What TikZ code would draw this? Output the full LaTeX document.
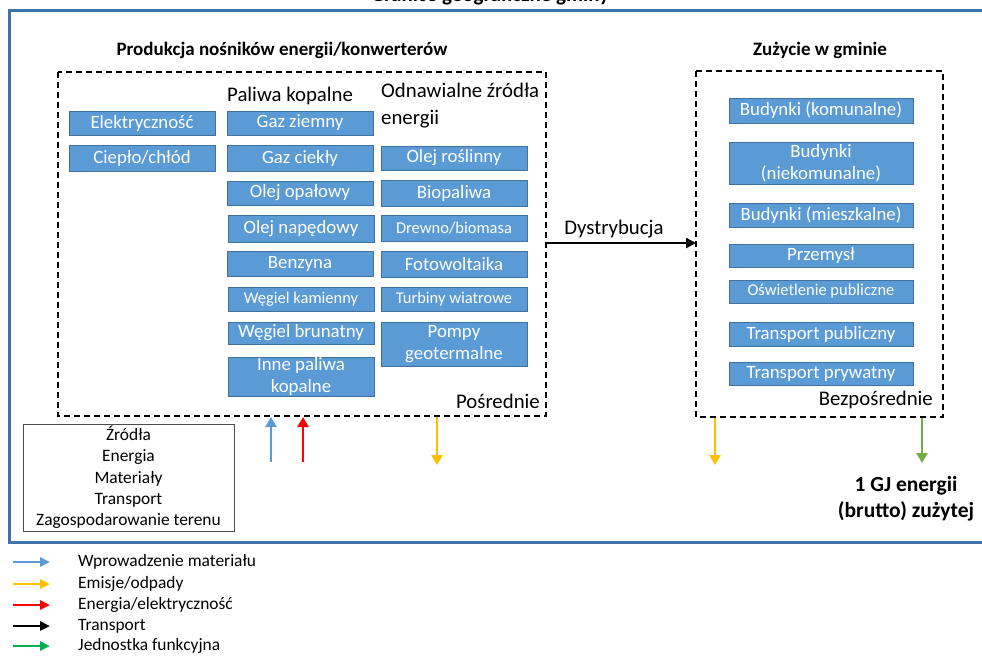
\documentclass[tikz,border=0pt]{standalone}
\usepackage{fontspec}
\setmainfont{Carlito}
\usetikzlibrary{arrows.meta}
\definecolor{bfill}{HTML}{5B9BD5}
\definecolor{bline}{HTML}{41719C}
\definecolor{frame}{HTML}{3F72AA}
\definecolor{ablue}{HTML}{5B9BD5}
\definecolor{aorange}{HTML}{FFC000}
\definecolor{ared}{HTML}{FF0000}
\definecolor{agreen}{HTML}{70AD47}
\definecolor{lgreen}{HTML}{00B050}
\tikzset{
  bbox/.style={draw=bline, line width=0.8pt, fill=bfill, text=white, inner sep=0pt, align=center,
    font=\fontsize{18.8}{22}\selectfont},
  sbox/.style={bbox, font=\fontsize{16.5}{22}\selectfont},
  dbox/.style={draw=black, line width=1.6pt, dash pattern=on 6pt off 4pt},
  head/.style={font=\bfseries\fontsize{19}{23}\selectfont, inner sep=0pt},
  sub/.style={font=\fontsize{20.8}{27}\selectfont, inner sep=0pt, align=left},
  flow/.style={line width=2.6pt, -{Triangle[width=11pt,length=10pt]}},
  lbl/.style={font=\fontsize{17.4}{21}\selectfont, inner sep=0pt, anchor=west},
}
\begin{document}
\begin{tikzpicture}[x=1pt,y=-1pt]
\useasboundingbox (0,0) rectangle (982,657);
\clip (0,0) rectangle (982,657);
% cut-off title
\node[font=\bfseries\fontsize{21}{24}\selectfont, inner sep=0pt, anchor=base] (title) at (490,1) {Granice geograficzne gminy};
% outer frame
\draw[frame, line width=3pt] (9,10) rectangle (1000,542);
% headings
\node[head] (hprod) at (282,50) {Produkcja nośników energii/konwerterów};
\node[head] (hcons) at (820,50) {Zużycie w gminie};
% dashed boxes
\draw[dbox] (58,72) rectangle (546,416);
\coordinate (lbR) at (546,243);
\draw[dbox] (696,71) rectangle (943,417);
\coordinate (rbL) at (696,243);
% sub-headings
\node[sub, anchor=west] (hfos) at (227,96) {Paliwa kopalne};
\node[sub, anchor=north west] (hren) at (381,83) {Odnawialne źródła\\energii};
% column 1
\node[bbox, minimum width=146pt, minimum height=24pt] (el) at (142,123) {Elektryczność};
\node[bbox, minimum width=146pt, minimum height=26pt] (cp) at (142,158) {Ciepło/chłód};
% column 2
\node[bbox, minimum width=146pt, minimum height=24pt] (gz) at (300,123) {Gaz ziemny};
\node[bbox, minimum width=146pt, minimum height=26pt] (gc) at (300,158) {Gaz ciekły};
\node[bbox, minimum width=146pt, minimum height=24pt] (oo) at (300,193) {Olej opałowy};
\node[bbox, minimum width=146pt, minimum height=27pt] (on) at (301,228.5) {Olej napędowy};
\node[bbox, minimum width=146pt, minimum height=25pt] (bz) at (300,263.5) {Benzyna};
\node[sbox, minimum width=146pt, minimum height=24pt] (wk) at (301,299) {Węgiel kamienny};
\node[bbox, minimum width=146pt, minimum height=22pt] (wb) at (301,333) {Węgiel brunatny};
\node[bbox, minimum width=146pt, minimum height=39pt] (ip) at (301,376.5) {Inne paliwa\\kopalne};
% column 3
\node[bbox, minimum width=146pt, minimum height=24pt] (or) at (454,158) {Olej roślinny};
\node[bbox, minimum width=146pt, minimum height=26pt] (bp) at (454,193) {Biopaliwa};
\node[sbox, minimum width=146pt, minimum height=26pt] (db) at (454,228) {Drewno/biomasa};
\node[bbox, minimum width=146pt, minimum height=26pt] (fw) at (454,264) {Fotowoltaika};
\node[sbox, minimum width=146pt, minimum height=24pt] (tw) at (454,299) {Turbiny wiatrowe};
\node[bbox, minimum width=146pt, minimum height=44pt] (pg) at (454,344) {Pompy\\geotermalne};
% right column
\node[bbox, minimum width=184pt, minimum height=25pt] (bk) at (821,110.5) {Budynki (komunalne)};
\node[bbox, minimum width=184pt, minimum height=42pt] (bn) at (821,163) {Budynki\\(niekomunalne)};
\node[bbox, minimum width=184pt, minimum height=24pt] (bm) at (821,215) {Budynki (mieszkalne)};
\node[bbox, minimum width=184pt, minimum height=23pt] (pr) at (821,255.5) {Przemysł};
\node[sbox, minimum width=184pt, minimum height=23pt] (os) at (821,291.5) {Oświetlenie publiczne};
\node[bbox, minimum width=184pt, minimum height=24pt] (tp) at (821,334) {Transport publiczny};
\node[bbox, minimum width=184pt, minimum height=23pt] (tr) at (821,373.5) {Transport prywatny};
% corner labels
\node[sub, anchor=east] (posr) at (540,401) {Pośrednie};
\node[sub, anchor=east] (bezp) at (933,400) {Bezpośrednie};
% distribution
\draw[line width=2.6pt, -{Triangle[width=10pt,length=10pt]}] (lbR) -- (rbL);
\node[sub] (dys) at (614,229) {Dystrybucja};
% sources box
\node[draw=black!70, line width=0.8pt, minimum width=211pt, minimum height=107pt, inner sep=0pt] (src) at (128.5,477.5) {};
\node[font=\fontsize{17.4}{21.3}\selectfont, align=center, inner sep=0pt] (srct) at (128.5,477.5) {Źródła\\Energia\\Materiały\\Transport\\Zagospodarowanie terenu};
% flows
\coordinate (b1) at (271,462); \coordinate (b1t) at (271,417);
\coordinate (r1) at (303,462); \coordinate (r1t) at (303,417);
\coordinate (o1) at (437,417); \coordinate (o1e) at (437,465);
\coordinate (o2) at (715,418); \coordinate (o2e) at (715,465);
\coordinate (g1) at (922,418); \coordinate (g1e) at (922,463);
\draw[flow, ablue] (b1) -- (b1t);
\draw[flow, ared] (r1) -- (r1t);
\draw[flow, aorange] (o1) -- (o1e);
\draw[flow, aorange] (o2) -- (o2e);
\draw[flow, agreen] (g1) -- (g1e);
\node[font=\bfseries\fontsize{21.5}{26}\selectfont, align=center, inner sep=0pt] (gj) at (906,499) {1 GJ energii\\(brutto) zużytej};
% legend
\foreach \y/\c [count=\i] in {562/ablue, 584/aorange, 605/ared, 626/black, 646/lgreen}{
  \coordinate (la\i) at (13,\y); \coordinate (lb\i) at (50,\y);
  \draw[\c, line width=2.6pt, -{Triangle[width=9pt,length=10pt]}] (la\i) -- (lb\i);
}
\node[lbl] (t1) at (78,562) {Wprowadzenie materiału};
\node[lbl] (t2) at (78,584) {Emisje/odpady};
\node[lbl] (t3) at (78,605) {Energia/elektryczność};
\node[lbl] (t4) at (78,626) {Transport};
\node[lbl] (t5) at (78,646) {Jednostka funkcyjna};
\end{tikzpicture}
\end{document}
